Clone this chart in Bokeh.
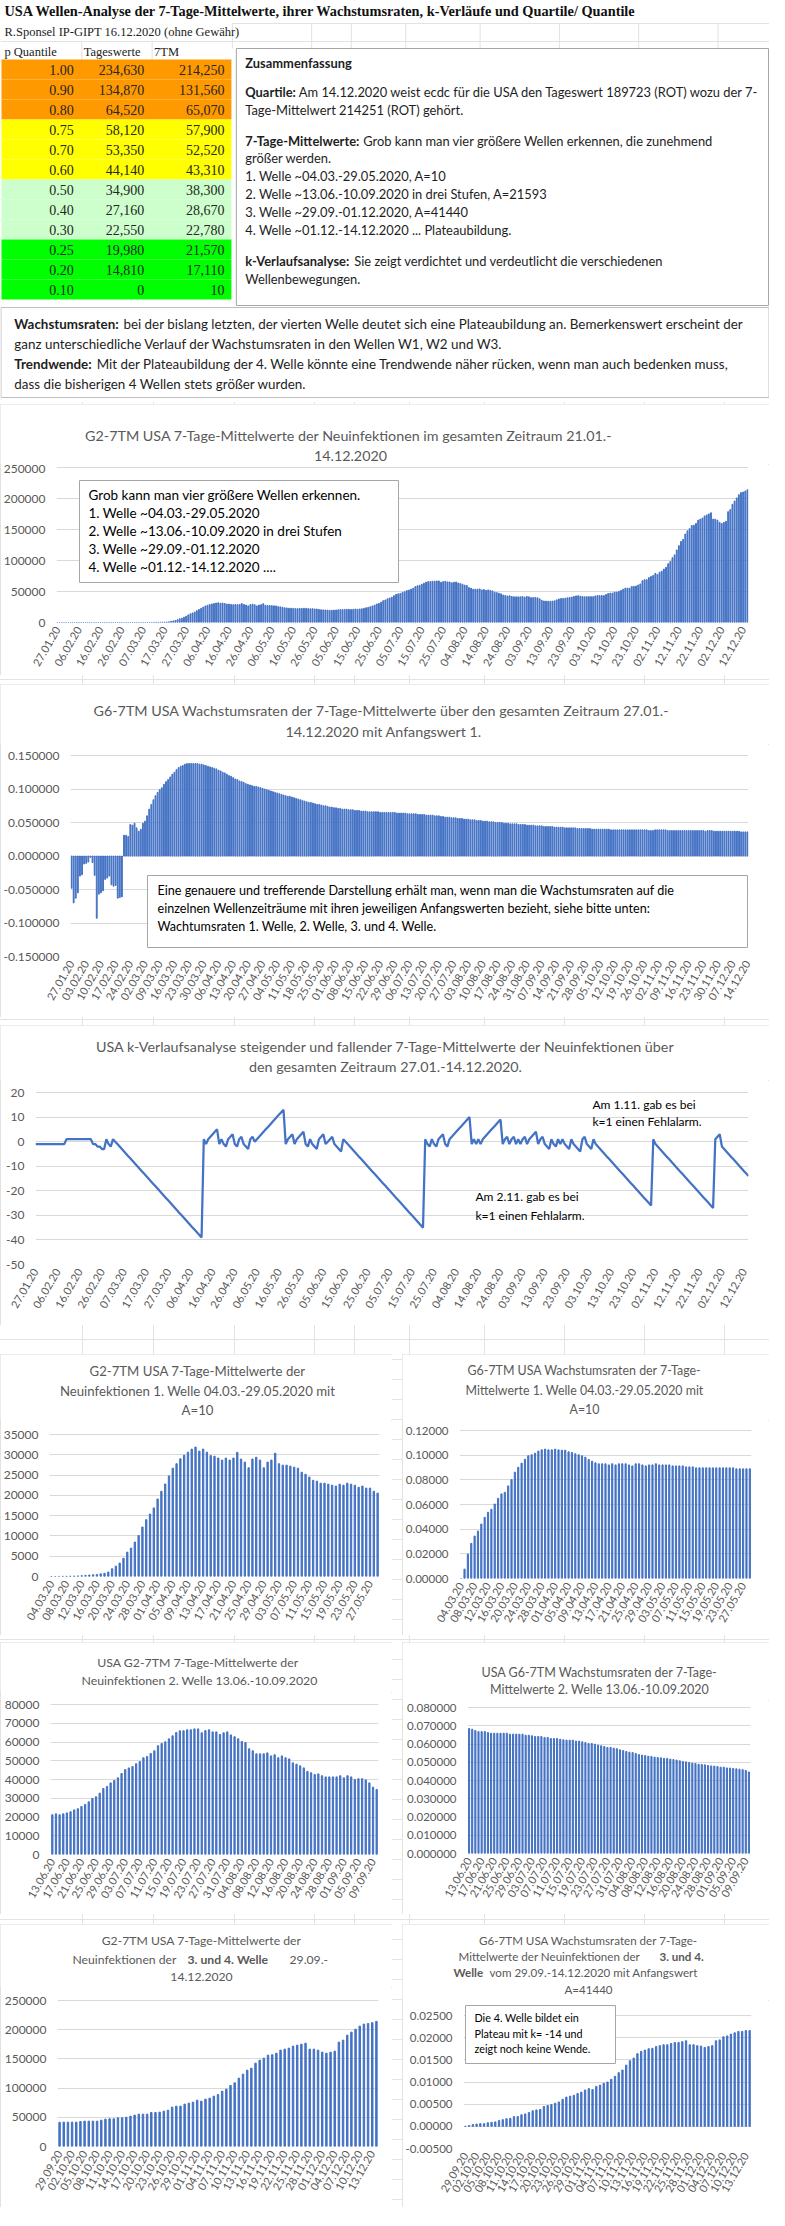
import math
from bokeh.plotting import figure
from bokeh.models import Range1d, FixedTicker, PrintfTickFormatter, Label, BoxAnnotation, Spacer
from bokeh.layouts import column, row
from bokeh.core.properties import value
from bokeh.embed import file_html
from bokeh.resources import INLINE

# ---------------------------------------------------------------- data
p_quantile = [1.00, 0.90, 0.80, 0.75, 0.70, 0.60, 0.50, 0.40, 0.30, 0.25, 0.20, 0.10]
tageswerte = [234630, 134870, 64520, 58120, 53350, 44140, 34900, 27160, 22550, 19980, 14810, 0]
tm7_quant = [214250, 131560, 65070, 57900, 52520, 43310, 38300, 28670, 22780, 21570, 17110, 10]
row_colors = ["#FF9900", "#FF9900", "#FF9900", "#FFFF00", "#FFFF00", "#FFFF00",
              "#CCFFCC", "#CCFFCC", "#CCFFCC", "#00FF00", "#00FF00", "#00FF00"]

# 7-Tage-Mittelwerte, 27.01. - 14.12.2020 (one value per day)
tm7_pre = [1, 1, 1, 1, 1, 1, 1, 1, 1, 1, 1, 1, 1, 1, 1, 1, 1, 1, 1, 1, 1, 1, 1,
           2, 2, 2, 3, 3, 4, 4, 5, 5, 6, 7, 8, 9, 9]                       # 27.01.-03.03.
tm7_w1 = [10, 15, 25, 40, 55, 75, 105, 150, 210, 280,
          350, 420, 500, 650, 800, 1100, 1900, 2550, 3300, 4500,
          6000, 7000, 8500, 10100, 12200, 14000, 15400, 16900, 19100, 21000,
          22800, 24800, 26700, 27800, 29000, 29900, 30650, 31400, 31900, 30900,
          31400, 30650, 29800, 29650, 29200, 28700, 29200, 28700, 29200, 30600,
          28950, 28200, 26800, 28950, 29400, 28700, 26800, 28200, 28700, 30400,
          27800, 27450, 27450, 27200, 26950, 26700, 25700, 25200, 24500, 23700,
          23500, 23000, 23000, 22750, 22500, 22300, 22750, 22500, 23000, 22750,
          22500, 22000, 22300, 21800, 21800, 21000, 20550]                  # 04.03.-29.05.
tm7_gap1 = [20300, 20100, 19900, 19700, 19600, 19900, 20200, 20500, 20800, 20900,
            21000, 21100, 21200, 21000]                                     # 30.05.-12.06.
tm7_w2 = [21200, 21700, 21200, 21700, 22200, 22800, 23800, 24400, 25600, 26700,
          28100, 29900, 30800, 32700, 35200, 36300, 38200, 39500, 40900, 43200,
          45300, 46200, 46900, 48400, 49600, 51600, 52300, 53900, 55300, 58000,
          59200, 60100, 61700, 63300, 65100, 66000, 66000, 66500, 66500, 67000,
          67000, 64900, 66100, 66500, 65400, 65400, 64000, 64900, 65400, 63800,
          62800, 61700, 60300, 59700, 56400, 55300, 53700, 53700, 53700, 54200,
          52600, 53200, 51600, 52600, 51600, 51000, 48900, 48200, 47300, 46200,
          44300, 43600, 42700, 43000, 42000, 41400, 41400, 41400, 41400, 42000,
          40900, 42000, 41400, 40000, 40400, 40400, 39800, 38200, 35900, 34700]  # 13.06.-10.09.
tm7_gap2 = [34500, 34300, 34200, 34500, 35000, 36500, 38000, 38600, 38900, 39300,
            39800, 40400, 41000, 42000, 42900, 43200, 42500, 41900]         # 11.09.-28.09.
tm7_w34 = [41440, 41700, 41700, 41700, 41700, 42800, 43400, 43400, 43400, 43400,
           45100, 46800, 47400, 47400, 49100, 49100, 50200, 51900, 53700, 55400,
           55400, 55400, 58200, 58200, 58800, 60500, 62200, 67400, 69100, 69100,
           72500, 74200, 75900, 79300, 77600, 81100, 82800, 86200, 89000, 94700,
           98200, 104500, 109000, 117000, 123900, 130700, 134100, 142700, 147800, 151300,
           156400, 157000, 159800, 165000, 166700, 168400, 171800, 173500, 175200, 176900,
           166700, 166700, 165000, 161500, 159800, 161500, 163200, 178700, 182100, 190600,
           195800, 200900, 206100, 209500, 210500, 212000, 214250]          # 29.09.-14.12.
tm7_all = tm7_pre + tm7_w1 + tm7_gap1 + tm7_w2 + tm7_gap2 + tm7_w34

# Wachstumsraten with Anfangswert 1, 27.01. - 14.12.2020
rate_all = [
    -0.048, -0.070, -0.063, -0.055, -0.030, -0.028, -0.012, -0.011, -0.009, -0.002,
    -0.010, -0.029, -0.093, -0.057, -0.055, -0.052, -0.035, -0.033, -0.030, -0.043,
    -0.045, -0.044, -0.063, -0.062, -0.061,
    0.031, 0.031, 0.029, 0.047, 0.046, 0.049, 0.042, 0.037, 0.040, 0.049,
    0.052, 0.060, 0.070, 0.077, 0.084, 0.090, 0.095, 0.099, 0.102, 0.107,
    0.111, 0.114, 0.118, 0.122, 0.125, 0.129, 0.132, 0.134, 0.135, 0.137,
    0.138, 0.138, 0.138, 0.138, 0.138, 0.138, 0.137, 0.137, 0.136, 0.135,
    0.134, 0.133, 0.132, 0.131, 0.130, 0.128, 0.127, 0.125, 0.124, 0.122,
    0.120, 0.119, 0.117, 0.115, 0.114, 0.112, 0.111, 0.110, 0.108, 0.107,
    0.106, 0.105, 0.104, 0.104, 0.103, 0.102, 0.101, 0.100, 0.099, 0.098,
    0.097, 0.096, 0.095, 0.094, 0.093, 0.092, 0.091, 0.090, 0.089, 0.089,
    0.088, 0.087, 0.086, 0.085, 0.084, 0.083, 0.082, 0.081, 0.080, 0.080,
    0.079, 0.078, 0.077, 0.077, 0.076, 0.075, 0.075, 0.074, 0.073, 0.073,
    0.072, 0.072, 0.071, 0.071, 0.070, 0.070, 0.070, 0.069, 0.069, 0.069,
    0.068, 0.068, 0.068, 0.067, 0.067, 0.067, 0.066, 0.066, 0.066, 0.066,
    0.066, 0.066, 0.065, 0.065, 0.065, 0.065, 0.065, 0.065, 0.065, 0.065,
    0.064, 0.064, 0.064, 0.064, 0.064, 0.063, 0.063, 0.063, 0.063, 0.063,
    0.062, 0.062, 0.062, 0.062, 0.061, 0.061, 0.061, 0.061, 0.060, 0.060,
    0.060, 0.059, 0.059, 0.058, 0.058, 0.058, 0.057, 0.057, 0.057, 0.056,
    0.056, 0.056, 0.055, 0.055, 0.055, 0.054, 0.054, 0.054, 0.053, 0.053,
    0.053, 0.052, 0.052, 0.052, 0.051, 0.051, 0.051, 0.050, 0.050, 0.050,
    0.050, 0.049, 0.049, 0.049, 0.048, 0.048, 0.048, 0.048, 0.047, 0.047,
    0.047, 0.047, 0.046, 0.046, 0.046, 0.046, 0.045, 0.045, 0.045, 0.045,
    0.044, 0.044, 0.044, 0.044, 0.044, 0.043, 0.043, 0.043, 0.043, 0.043,
    0.042, 0.042, 0.042, 0.042, 0.042, 0.042, 0.041, 0.041, 0.041, 0.041,
    0.041, 0.041, 0.041, 0.040, 0.040, 0.040, 0.040, 0.040, 0.040, 0.040,
    0.040, 0.040, 0.039, 0.039, 0.039, 0.039, 0.039, 0.039, 0.039, 0.039,
    0.039, 0.039, 0.039, 0.039, 0.039, 0.039, 0.039, 0.039, 0.039, 0.039,
    0.038, 0.038, 0.038, 0.039, 0.039, 0.039, 0.039, 0.039, 0.039, 0.038,
    0.038, 0.038, 0.038, 0.038, 0.038, 0.038, 0.038, 0.038, 0.038, 0.038,
    0.038, 0.038, 0.038, 0.038, 0.038, 0.038, 0.038, 0.037, 0.038, 0.038,
    0.038, 0.037, 0.037, 0.037, 0.037, 0.037, 0.037, 0.037, 0.037, 0.037,
    0.037, 0.037, 0.037, 0.037, 0.036, 0.036, 0.036, 0.036]

# k-Verlauf, 27.01. - 14.12.2020
k_all = [
    -1, -1, -1, -1, -1, -1, -1, -1, -1, -1, -1, -1, -1, -1,
    1, 1, 1, 1, 1, 1, 1, 1, 1, 1, 1, 1,
    -1, -1, -2, -2, -3, -3, 1, -1, -2, 1, 0,
    -1, -2, -3, -4, -5, -6, -7, -8, -9, -10, -11, -12, -13, -14, -15, -16, -17, -18, -19, -20,
    -21, -22, -23, -24, -25, -26, -27, -28, -29, -30, -31, -32, -33, -34, -35, -36, -37, -38, -39,
    1, -1, 1, 2, 3, 4, 5,
    -1, 1, -1, -2, 1, 2, 3, -1, -2, 1, 2, -1, -2, -3, 1, 2,
    0, 1, 2, 3, 4, 5, 6, 7, 8, 9, 10, 11, 12, 13,
    -1, 1, 2, 3, -1, 1, 2, 3, 4, -1, -2, 1, -1, -2, -3, 1, 2, 3, -1, 0, 1, 2, -1, -2, -3, -4, 1,
    0, -1, -2, -3, -4, -5, -6, -7, -8, -9, -10, -11, -12, -13, -14, -15, -16, -17,
    -18, -19, -20, -21, -22, -23, -24, -25, -26, -27, -28, -29, -30, -31, -32, -33, -34, -35,
    1, -1, -2, 1, -1, -2, 1, 2, 3, -1, -2, 1, 2, 3, 4, 5, 6, 7, 8, 9, 10,
    -1, 1, -1, 1, -1, 1, 2, 3, 4, 5, 6, 7, 8, 9,
    -1, 1, 2, -1, 1, 2, -1, 1, -1, 1, 2, -1, 1, 2, 3, 4, -1, 1, 2, -1,
    -2, -3, 1, -1, -2, 1, -1, 1, -1, -2, -3, 1, -1, -2, -3, -4, 1, 2, -1, -2, -3,
    1,
    -1, -2, -3, -4, -5, -6, -7, -8, -9, -10, -11, -12, -13, -14, -15, -16, -17, -18, -19, -20,
    -21, -22, -23, -24, -25, -26,
    1,
    -1, -2, -3, -4, -5, -6, -7, -8, -9, -10, -11, -12, -13, -14, -15, -16, -17, -18, -19, -20,
    -21, -22, -23, -24, -25, -26, -27,
    1, 2, 3,
    -2, -3, -4, -5, -6, -7, -8, -9, -10, -11, -12, -13, -14]

rate_w1 = [0.0, 0.0076, 0.0198, 0.0285, 0.0344, 0.0385, 0.0442, 0.0496, 0.0537, 0.0561,
           0.0604, 0.0650, 0.0686, 0.0699, 0.0751, 0.0802, 0.0862, 0.0902, 0.0935, 0.0967,
           0.0995, 0.1003, 0.1016, 0.1033, 0.1043, 0.1049, 0.1043, 0.1043, 0.1049, 0.1043,
           0.1040, 0.1040, 0.1027, 0.1022, 0.1011, 0.1003, 0.0995, 0.0984, 0.0965, 0.0951,
           0.0938, 0.0930, 0.0930, 0.0930, 0.0921, 0.0930, 0.0921, 0.0930, 0.0930, 0.0930,
           0.0921, 0.0913, 0.0930, 0.0930, 0.0921, 0.0913, 0.0921, 0.0921, 0.0930, 0.0921,
           0.0921, 0.0921, 0.0921, 0.0913, 0.0913, 0.0913, 0.0913, 0.0905, 0.0905, 0.0905,
           0.0897, 0.0897, 0.0897, 0.0897, 0.0897, 0.0897, 0.0897, 0.0897, 0.0897, 0.0897,
           0.0897, 0.0897, 0.0889, 0.0889, 0.0889, 0.0889, 0.0889]
rate_w2 = [0.0685, 0.0681, 0.0674, 0.0668, 0.0668, 0.0668, 0.0663, 0.0659, 0.0659, 0.0659,
           0.0659, 0.0659, 0.0659, 0.0654, 0.0654, 0.0654, 0.0654, 0.0654, 0.0648, 0.0648,
           0.0645, 0.0641, 0.0641, 0.0641, 0.0636, 0.0636, 0.0630, 0.0630, 0.0630, 0.0626,
           0.0623, 0.0621, 0.0621, 0.0621, 0.0616, 0.0616, 0.0612, 0.0608, 0.0603, 0.0603,
           0.0599, 0.0594, 0.0590, 0.0586, 0.0581, 0.0581, 0.0577, 0.0574, 0.0568, 0.0564,
           0.0559, 0.0555, 0.0553, 0.0548, 0.0542, 0.0539, 0.0537, 0.0533, 0.0532, 0.0528,
           0.0526, 0.0524, 0.0521, 0.0521, 0.0517, 0.0515, 0.0512, 0.0508, 0.0504, 0.0502,
           0.0499, 0.0495, 0.0493, 0.0489, 0.0488, 0.0486, 0.0482, 0.0480, 0.0479, 0.0477,
           0.0473, 0.0473, 0.0469, 0.0468, 0.0466, 0.0464, 0.0462, 0.0459, 0.0455, 0.0447]
rate_w34 = [0.0, 0.0002, 0.0004, 0.0005, 0.0006, 0.0006, 0.0008, 0.0009, 0.0010, 0.0013,
            0.0015, 0.0017, 0.0018, 0.0022, 0.0022, 0.0026, 0.0028, 0.0031, 0.0035, 0.0037,
            0.0038, 0.0045, 0.0047, 0.0049, 0.0052, 0.0055, 0.0061, 0.0066, 0.0068, 0.0070,
            0.0074, 0.0077, 0.0082, 0.0085, 0.0083, 0.0090, 0.0093, 0.0097, 0.0100, 0.0106,
            0.0113, 0.0121, 0.0127, 0.0138, 0.0148, 0.0154, 0.0164, 0.0169, 0.0172, 0.0175,
            0.0176, 0.0180, 0.0182, 0.0184, 0.0184, 0.0187, 0.0189, 0.0189, 0.0191, 0.0193,
            0.0184, 0.0184, 0.0182, 0.0181, 0.0178, 0.0180, 0.0182, 0.0193, 0.0195, 0.0202,
            0.0204, 0.0208, 0.0211, 0.0214, 0.0214, 0.0216, 0.0216]

labels_10d = ["27.01.20", "06.02.20", "16.02.20", "26.02.20", "07.03.20", "17.03.20", "27.03.20",
              "06.04.20", "16.04.20", "26.04.20", "06.05.20", "16.05.20", "26.05.20", "05.06.20",
              "15.06.20", "25.06.20", "05.07.20", "15.07.20", "25.07.20", "04.08.20", "14.08.20",
              "24.08.20", "03.09.20", "13.09.20", "23.09.20", "03.10.20", "13.10.20", "23.10.20",
              "02.11.20", "12.11.20", "22.11.20", "02.12.20", "12.12.20"]
labels_7d = ["27.01.20", "03.02.20", "10.02.20", "17.02.20", "24.02.20", "02.03.20", "09.03.20",
             "16.03.20", "23.03.20", "30.03.20", "06.04.20", "13.04.20", "20.04.20", "27.04.20",
             "04.05.20", "11.05.20", "18.05.20", "25.05.20", "01.06.20", "08.06.20", "15.06.20",
             "22.06.20", "29.06.20", "06.07.20", "13.07.20", "20.07.20", "27.07.20", "03.08.20",
             "10.08.20", "17.08.20", "24.08.20", "31.08.20", "07.09.20", "14.09.20", "21.09.20",
             "28.09.20", "05.10.20", "12.10.20", "19.10.20", "26.10.20", "02.11.20", "09.11.20",
             "16.11.20", "23.11.20", "30.11.20", "07.12.20", "14.12.20"]
labels_w1 = ["04.03.20", "08.03.20", "12.03.20", "16.03.20", "20.03.20", "24.03.20", "28.03.20",
             "01.04.20", "05.04.20", "09.04.20", "13.04.20", "17.04.20", "21.04.20", "25.04.20",
             "29.04.20", "03.05.20", "07.05.20", "11.05.20", "15.05.20", "19.05.20", "23.05.20",
             "27.05.20"]
labels_w2 = ["13.06.20", "17.06.20", "21.06.20", "25.06.20", "29.06.20", "03.07.20", "07.07.20",
             "11.07.20", "15.07.20", "19.07.20", "23.07.20", "27.07.20", "31.07.20", "04.08.20",
             "08.08.20", "12.08.20", "16.08.20", "20.08.20", "24.08.20", "28.08.20", "01.09.20",
             "05.09.20", "09.09.20"]
labels_w34 = ["29.09.20", "02.10.20", "05.10.20", "08.10.20", "11.10.20", "14.10.20", "17.10.20",
              "20.10.20", "23.10.20", "26.10.20", "29.10.20", "01.11.20", "04.11.20", "07.11.20",
              "10.11.20", "13.11.20", "16.11.20", "19.11.20", "22.11.20", "25.11.20", "28.11.20",
              "01.12.20", "04.12.20", "07.12.20", "10.12.20", "13.12.20"]

assert len(tm7_all) == 323 and len(rate_all) == 323 and len(k_all) == 323
assert len(tm7_w1) == 87 and len(tm7_w2) == 90 and len(tm7_w34) == 77
assert len(rate_w1) == 87 and len(rate_w2) == 90 and len(rate_w34) == 77

# ---------------------------------------------------------------- style
SANS = "Lato"
SERIF = "Liberation Serif"
GREY = "#595959"
BLUE = "#4472C4"
GRID = "#d9d9d9"
BOXLINE = "#a6a6a6"
ANG = math.pi / 3
W = 769
NOBORDER = dict(min_border_left=0, min_border_right=0, min_border_top=0, min_border_bottom=0)


def plain_fig(w, h):
    f = figure(width=w, height=h, x_range=Range1d(0, w), y_range=Range1d(h, 0),
               x_axis_type=None, y_axis_type=None, frame_align=False,
               output_backend="svg", toolbar_location=None, tools="", **NOBORDER)
    f.outline_line_color = None
    f.title.visible = False
    return f


def ftext(f, xs, ys, texts, size, font=SANS, bold=False, align="left", color=GREY):
    f.text(x=xs, y=ys, text=texts, text_font=value(font), text_font_size=value(f"{size}px"),
           text_font_style="bold" if bold else "normal", text_align=align,
           text_baseline="middle", text_color=color)


class Panel:
    def __init__(self, w, h, th, L, R, PT, B, n, yr, yticks, yfmt, xt, xl,
                 xfs=11, yfs=12, ystand=11, line=False):
        self.th = th
        self.tf = plain_fig(w, th)
        ch = h - th
        pt = PT - th
        ymin, ymax = yr
        yend = ymax + pt * (ymax - ymin) / (ch - B - pt)
        xr = Range1d(0, n - 1) if line else Range1d(-0.5, n - 0.5)
        p = figure(width=w, height=ch, x_range=xr, y_range=Range1d(ymin, yend),
                   min_border_left=L, min_border_right=R, min_border_top=0, min_border_bottom=B,
                   frame_align=False, output_backend="svg", toolbar_location=None, tools="")
        p.title.visible = False
        p.outline_line_color = None
        p.xgrid.visible = False
        p.ygrid.ticker = FixedTicker(ticks=yticks)
        p.ygrid.grid_line_color = GRID
        p.yaxis.ticker = FixedTicker(ticks=yticks)
        p.yaxis.formatter = PrintfTickFormatter(format=yfmt)
        p.xaxis.ticker = FixedTicker(ticks=xt)
        p.xaxis.major_label_overrides = {t: s for t, s in zip(xt, xl)}
        p.xaxis.major_label_orientation = ANG
        for ax in (p.xaxis[0], p.yaxis[0]):
            ax.axis_line_color = None
            ax.major_tick_line_color = None
            ax.minor_tick_line_color = None
            ax.major_tick_out = 0
            ax.major_tick_in = 0
            ax.major_label_text_color = GREY
            ax.major_label_text_font = SANS
        p.xaxis.major_label_text_font_size = f"{xfs}px"
        p.yaxis.major_label_text_font_size = f"{yfs}px"
        p.yaxis.major_label_standoff = ystand
        p.xaxis.major_label_standoff = 5
        self.p = p
        self.layout = column(self.tf, p, styles={"outline": "1px solid #d9d9d9", "outline-offset": "-1px",
                                                "background-color": "white"})

    def title(self, x, y, text, size, bold=False, align="center"):
        ftext(self.tf, [x], [y], [text], size, bold=bold, align=align, color=GREY)

    def label(self, cx, cy, text, size, color="#000000"):
        p = self.p
        fb = p.height - p.min_border_bottom
        p.add_layout(Label(x=cx - p.min_border_left, y=fb - (cy - self.th), x_units="screen", y_units="screen",
                           text=text, text_font=SANS, text_font_size=f"{size}px",
                           text_align="left", text_baseline="middle", text_color=color))

    def box(self, x0, y0, x1, y1):
        p = self.p
        fb = p.height - p.min_border_bottom
        L = p.min_border_left
        p.add_layout(BoxAnnotation(left=x0 - L, right=x1 - L, top=fb - (y0 - self.th), bottom=fb - (y1 - self.th),
                                   left_units="screen", right_units="screen",
                                   top_units="screen", bottom_units="screen",
                                   fill_color="white", fill_alpha=1.0,
                                   line_color=BOXLINE, line_width=1, line_alpha=1.0))


# ---------------------------------------------------------------- top sheet part
top = plain_fig(W, 402)
top.x_range = Range1d(4, 780)
top.y_range = Range1d(410, 8)

SHEET = "#e2e2e2"
top.segment(x0=[238, 4], y0=[31, 49], x1=[780, 780], y1=[31, 49], line_color=SHEET, line_width=1)
top.segment(x0=[86, 157, 238, 318, 358, 413, 488, 568, 648, 728],
            y0=[49, 49, 31, 31, 31, 31, 31, 31, 31, 31],
            x1=[86, 157, 238, 318, 358, 413, 488, 568, 648, 728],
            y1=[67, 67, 56, 56, 56, 56, 56, 56, 56, 56], line_color=SHEET, line_width=1)

nrow = len(p_quantile)
row_top = [67 + 20 * i for i in range(nrow)]
row_bot = [87 + 20 * i for i in range(nrow)]
row_mid = [77 + 20 * i for i in range(nrow)]
top.quad(left=[5] * nrow, right=[237] * nrow, top=row_top, bottom=row_bot,
         fill_color=row_colors, line_color=None)

INK = "#1e1e1e"
ftext(top, [8], [18], ["USA Wellen-Analyse der 7-Tage-Mittelwerte, ihrer Wachstumsraten, k-Verläufe und Quartile/ Quantile"],
      14.3, font=SERIF, bold=True, color="#111111")
ftext(top, [8], [39], ["R.Sponsel IP-GIPT 16.12.2020 (ohne Gewähr)"], 12.5, font=SERIF, color="#222222")
ftext(top, [8, 88, 159], [59, 59, 59], ["p Quantile", "Tageswerte", "7TM"], 12.5, font=SERIF, color="#222222")
ftext(top, [78] * nrow, row_mid, [f"{v:.2f}" for v in p_quantile], 14, font=SERIF, align="right", color="#262626")
ftext(top, [149] * nrow, row_mid, [f"{v:,}" for v in tageswerte], 14, font=SERIF, align="right", color="#262626")
ftext(top, [230] * nrow, row_mid, [f"{v:,}" for v in tm7_quant], 14, font=SERIF, align="right", color="#262626")

# Zusammenfassung box
top.quad(left=[242], right=[779], top=[56], bottom=[313], fill_color="white", line_color=BOXLINE)
FS = 12.9
ftext(top, [251], [70], ["Zusammenfassung"], FS, bold=True, color=INK)
ftext(top, [251, 251, 251], [99, 148, 268], ["Quartile:", "7-Tage-Mittelwerte:", "k-Verlaufsanalyse:"], FS,
      bold=True, color=INK)
ftext(top, [305, 370, 361], [99, 148, 268],
      ["Am 14.12.2020 weist ecdc für die USA den Tageswert 189723 (ROT) wozu der 7-",
       "Grob kann man vier größere Wellen erkennen, die zunehmend",
       "Sie zeigt verdichtet und verdeutlicht die verschiedenen"], FS, color=INK)
ftext(top, [251] * 7, [117, 165, 183, 201, 219, 237, 286],
      ["Tage-Mittelwert 214251 (ROT) gehört.",
       "größer werden.",
       "1. Welle  ~04.03.-29.05.2020, A=10",
       "2. Welle  ~13.06.-10.09.2020 in drei Stufen, A=21593",
       "3. Welle  ~29.09.-01.12.2020, A=41440",
       "4. Welle  ~01.12.-14.12.2020 ... Plateaubildung.",
       "Wellenbewegungen."], FS, color=INK)

# Wachstumsraten box
FW = 13.4
top.quad(left=[4.5], right=[779.5], top=[315], bottom=[405], fill_color="white", line_color="#bfbfbf")
ftext(top, [18, 18], [331, 371], ["Wachstumsraten:", "Trendwende:"], FW, bold=True, color=INK)
ftext(top, [128, 101], [331, 371],
      ["bei der bislang letzten, der vierten Welle deutet sich eine Plateaubildung an. Bemerkenswert erscheint der",
       "Mit der Plateaubildung der 4. Welle könnte eine Trendwende näher rücken, wenn man auch bedenken muss,"],
      FW, color=INK)
ftext(top, [18, 18], [351, 391],
      ["ganz unterschiedliche Verlauf der Wachstumsraten in den Wellen W1, W2 und W3.",
       "dass die bisherigen 4 Wellen stets größer wurden."], FW, color=INK)

# ---------------------------------------------------------------- G2 full
N = len(tm7_all)
TT = 14.3
g2 = Panel(W, 271, 60, 56, 21, 63, 53, N, (0, 250000), [0, 50000, 100000, 150000, 200000, 250000], "%d",
           list(range(0, N, 10)), labels_10d)
g2.p.vbar(x=list(range(N)), top=tm7_all, width=0.4, color=BLUE)
g2.title(350, 31, "G2-7TM  USA 7-Tage-Mittelwerte der Neuinfektionen im gesamten Zeitraum 21.01.-", TT)
g2.title(350, 51, "14.12.2020", TT)
g2.box(79, 76, 398, 178)
for i, t in enumerate(["Grob kann man vier größere Wellen erkennen.", "1. Welle  ~04.03.-29.05.2020",
                       "2. Welle  ~13.06.-10.09.2020 in drei Stufen", "3. Welle  ~29.09.-01.12.2020",
                       "4. Welle  ~01.12.-14.12.2020 ...."]):
    g2.label(88, 90 + 18 * i, t, 13.5)

# ---------------------------------------------------------------- G6 full
g6 = Panel(W, 333, 60, 70, 21, 71, 61, N, (-0.15, 0.15), [-0.15, -0.1, -0.05, 0.0, 0.05, 0.1, 0.15], "%.6f",
           list(range(0, N, 7)), labels_7d)
g6.p.vbar(x=list(range(N)), top=rate_all, width=0.4, color=BLUE)
g6.title(383, 26, "G6-7TM  USA Wachstumsraten der 7-Tage-Mittelwerte über den gesamten Zeitraum 27.01.-", TT)
g6.title(383, 47, "14.12.2020 mit Anfangswert 1.", TT)
g6.box(147, 191, 747, 263)
for i, t in enumerate(["Eine genauere und trefferende Darstellung erhält man, wenn man die Wachstumsraten auf die",
                       "einzelnen Wellenzeiträume  mit ihren jeweiligen Anfangswerten bezieht, siehe bitte unten:",
                       "Wachtumsraten 1. Welle, 2. Welle, 3. und 4. Welle."]):
    g6.label(157, 206 + 18 * i, t, 12.6)

# ---------------------------------------------------------------- k chart
kf = Panel(W, 300, 55, 35, 21, 67, 61, N, (-50, 20), [-50, -40, -30, -20, -10, 0, 10, 20], "%d",
           list(range(0, N, 10)), labels_10d, line=True)
kf.p.line(x=list(range(N)), y=k_all, line_color=BLUE, line_width=2.25)
kf.title(385, 21, "USA k-Verlaufsanalyse steigender und fallender 7-Tage-Mittelwerte der Neuinfektionen über", TT)
kf.title(385, 41, "den gesamten Zeitraum 27.01.-14.12.2020.", TT)
kf.label(592, 79, "Am 1.11. gab es bei", 12)
kf.label(592, 96, "k=1 einen Fehlalarm.", 12)
kf.label(475, 171, "Am 2.11. gab es bei", 12)
kf.label(475, 190, "k=1 einen Fehlalarm.", 12)

# ---------------------------------------------------------------- wave panels
LW, RW = 392, 367
n1, n2, n3 = len(tm7_w1), len(tm7_w2), len(tm7_w34)

w1a = Panel(LW, 281, 66, 49, 13, 80, 59, n1, (0, 35000), [0, 5000, 10000, 15000, 20000, 25000, 30000, 35000], "%d",
            list(range(0, n1, 4)), labels_w1)
w1a.p.vbar(x=list(range(n1)), top=tm7_w1, width=0.35, color=BLUE)
for cy, t in zip([16, 36, 55], ["G2-7TM USA 7-Tage-Mittelwerte der", "Neuinfektionen 1. Welle 04.03.-29.05.2020 mit", "A=10"]):
    w1a.title(197, cy, t, 13.2)

w1b = Panel(RW, 281, 66, 56, 18, 76, 57, n1, (0, 0.12), [0, 0.02, 0.04, 0.06, 0.08, 0.10, 0.12], "%.5f",
            list(range(0, n1, 4)), labels_w1, yfs=11.5)
w1b.p.vbar(x=list(range(n1)), top=rate_w1, width=0.35, color=BLUE)
for cy, t in zip([16, 36, 55], ["G6-7TM USA Wachstumsraten der 7-Tage-", "Mittelwerte 1. Welle 04.03.-29.05.2020 mit", "A=10"]):
    w1b.title(182, cy, t, 12.4)

w2a = Panel(LW, 272, 50, 50, 14, 62, 60, n2, (0, 80000), [0, 10000, 20000, 30000, 40000, 50000, 60000, 70000, 80000], "%d",
            list(range(0, n2, 4)), labels_w2)
w2a.p.vbar(x=list(range(n2)), top=tm7_w2, width=0.35, color=BLUE)
for cy, t in zip([20, 38], ["USA G2-7TM  7-Tage-Mittelwerte der", "Neuinfektionen 2. Welle 13.06.-10.09.2020"]):
    w2a.title(199, cy, t, 12.3)

w2b = Panel(RW, 272, 58, 65, 19, 65, 61, n2, (0, 0.08), [0, 0.01, 0.02, 0.03, 0.04, 0.05, 0.06, 0.07, 0.08], "%.6f",
            list(range(0, n2, 4)), labels_w2, yfs=11.5)
w2b.p.vbar(x=list(range(n2)), top=rate_w2, width=0.35, color=BLUE)
for cy, t in zip([30, 47], ["USA G6-7TM Wachstumsraten der 7-Tage-", "Mittelwerte 2. Welle 13.06.-10.09.2020"]):
    w2b.title(197, cy, t, 12.5)

w3a = Panel(LW, 283, 63, 57, 14, 76, 61, n3, (0, 250000), [0, 50000, 100000, 150000, 200000, 250000], "%d",
            list(range(0, n3, 3)), labels_w34)
w3a.p.vbar(x=list(range(n3)), top=tm7_w34, width=0.35, color=BLUE)
w3a.title(201, 16, "G2-7TM USA 7-Tage-Mittelwerte der", 12.2)
w3a.title(72, 35, "Neuinfektionen der", 12.2, align="left")
w3a.title(187, 35, "3. und 4. Welle", 12.2, bold=True, align="left")
w3a.title(289, 35, "29.09.-", 12.2, align="left")
w3a.title(201, 52, "14.12.2020", 12.2)

w3b = Panel(RW, 283, 76, 61, 18, 91, 59, n3, (-0.005, 0.025), [-0.005, 0.0, 0.005, 0.01, 0.015, 0.02, 0.025], "%.5f",
            list(range(0, n3, 3)), labels_w34, yfs=11.5)
w3b.p.vbar(x=list(range(n3)), top=rate_w34, width=0.35, color=BLUE)
w3b.title(186, 16, "G6-7TM USA Wachstumsraten der 7-Tage-", 11.6)
w3b.title(56, 32, "Mittelwerte der Neuinfektionen der", 11.6, align="left")
w3b.title(257, 32, "3. und 4.", 11.6, bold=True, align="left")
w3b.title(51, 48, "Welle", 11.6, bold=True, align="left")
w3b.title(87, 48, "vom 29.09.-14.12.2020 mit Anfangswert", 11.6, align="left")
w3b.title(186, 65, "A=41440", 11.6)
w3b.box(63, 81, 213, 139)
for cy, t in zip([93, 109, 124], ["Die 4. Welle bildet ein", "Plateau mit k= -14 und", "zeigt noch keine Wende."]):
    w3b.label(72, cy, t, 10.8)

# ---------------------------------------------------------------- layout
vlines = [82, 153, 234, 314, 354, 409, 484, 564, 644, 724]
stops = ["transparent 0px"]
for v in vlines:
    stops += [f"transparent {v}px", f"#e3e3e3 {v}px", f"#e3e3e3 {v + 1}px", f"transparent {v + 1}px"]
stops.append("transparent 100%")
sheet_bg = {
    "background-image": "linear-gradient(to bottom, #e3e3e3 1px, transparent 1px), "
                        "linear-gradient(to right, " + ", ".join(stops) + ")",
    "background-size": "100% 20px, 100% 100%",
    "background-position": "0px 19px, 0px 0px",
    "background-repeat": "repeat, no-repeat",
}

root = column(
    top,
    Spacer(width=W, height=2),
    g2.layout,
    Spacer(width=W, height=9),
    g6.layout,
    Spacer(width=W, height=8),
    kf.layout,
    Spacer(width=W, height=29),
    row(w1a.layout, Spacer(width=10, height=281), w1b.layout),
    Spacer(width=W, height=7),
    row(w2a.layout, Spacer(width=10, height=272), w2b.layout),
    Spacer(width=W, height=10),
    row(w3a.layout, Spacer(width=10, height=283), w3b.layout),
    styles=sheet_bg,
)

open("out.html", "w").write(file_html(root, INLINE))
